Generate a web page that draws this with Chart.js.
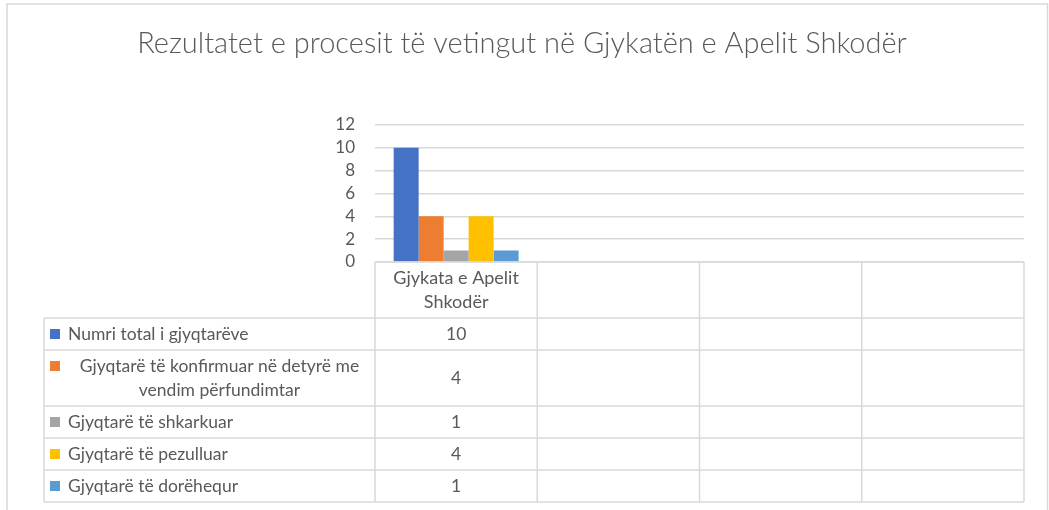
<!DOCTYPE html>
<html>
<head>
<meta charset="utf-8">
<script src="https://cdn.jsdelivr.net/npm/chart.js@4"></script>
<style>
  html, body { margin: 0; padding: 0; background: #ffffff; }
  #wrap { position: absolute; left: 0; top: 0; width: 1049px; height: 510px; }
</style>
</head>
<body>
<div id="wrap"><canvas id="c"></canvas></div>
<script>
// ---- Data ----
const chartTitle = 'Rezultatet e procesit të vetingut në Gjykatën e Apelit Shkodër';
const categories = ['Gjykata e Apelit Shkodër', '', '', ''];
const seriesNames = [
  'Numri total i gjyqtarëve',
  'Gjyqtarë të konfirmuar në detyrë me vendim përfundimtar',
  'Gjyqtarë të shkarkuar',
  'Gjyqtarë të pezulluar',
  'Gjyqtarë të dorëhequr'
];
const numriTotal   = [10, null, null, null];
const konfirmuar   = [4, null, null, null];
const shkarkuar    = [1, null, null, null];
const pezulluar    = [4, null, null, null];
const doreHequr    = [1, null, null, null];
const seriesColors = ['#4472C4', '#ED7D31', '#A5A5A5', '#FFC000', '#5B9BD5'];
const yMin = 0, yMax = 12, yStep = 2;

const FONT = 'Lato, "Open Sans", sans-serif';
const TEXT = '#595959';
const LINE = '#d9d9d9';

const seriesValues = [numriTotal, konfirmuar, shkarkuar, pezulluar, doreHequr];

function wrap(ctx, text, maxW) {
  const words = text.split(' ');
  const lines = [];
  let cur = '';
  for (const w of words) {
    const t = cur ? cur + ' ' + w : w;
    if (ctx.measureText(t).width > maxW && cur) { lines.push(cur); cur = w; }
    else cur = t;
  }
  if (cur) lines.push(cur);
  return lines;
}

const frame = {
  id: 'frame',
  beforeDraw(chart) {
    const ctx = chart.ctx;
    ctx.save();
    ctx.fillStyle = '#ffffff';
    ctx.fillRect(0, 0, chart.width, chart.height);
    ctx.strokeStyle = LINE;
    ctx.lineWidth = 1.5;
    ctx.strokeRect(7, 4, 1040.5, 530);
    ctx.restore();
  }
};

const dataTable = {
  id: 'dataTable',
  afterDraw(chart) {
    const ctx = chart.ctx;
    const xs = chart.scales.x;
    const area = chart.chartArea;
    const n = categories.length;
    const colW = (area.right - area.left) / n;
    const tableLeft = 44;
    const top = area.bottom;
    const headerH = 56;
    const rowHeights = [32, 56, 32, 32, 32];
    ctx.save();
    ctx.strokeStyle = LINE;
    ctx.lineWidth = 1.5;
    const ys = [top + headerH];
    rowHeights.forEach(h => ys.push(ys[ys.length - 1] + h));
    const bottom = ys[ys.length - 1];
    ctx.beginPath();
    ctx.moveTo(area.left, top); ctx.lineTo(area.right, top);
    ys.forEach(y => { ctx.moveTo(tableLeft, y); ctx.lineTo(area.right, y); });
    ctx.moveTo(tableLeft, ys[0]); ctx.lineTo(tableLeft, bottom);
    for (let i = 0; i <= n; i++) {
      const x = area.left + i * colW;
      ctx.moveTo(x, top); ctx.lineTo(x, bottom);
    }
    ctx.stroke();

    ctx.fillStyle = TEXT;
    ctx.textBaseline = 'middle';
    ctx.textAlign = 'center';
    // header (category labels)
    ctx.font = '18px ' + FONT;
    categories.forEach((c, i) => {
      if (!c) return;
      const cx = xs.getPixelForValue(i);
      const lines = wrap(ctx, c, colW - 14);
      const lh = 24;
      const y0 = top + headerH / 2 - (lines.length - 1) * lh / 2;
      lines.forEach((l, k) => ctx.fillText(l, cx, y0 + k * lh));
    });
    // rows
    ctx.font = '17.5px ' + FONT;
    const textLeft = 68;
    const textRight = area.left - 4;
    seriesNames.forEach((name, r) => {
      const y1 = ys[r], y2 = ys[r + 1];
      const cy = (y1 + y2) / 2;
      const lines = wrap(ctx, name, textRight - textLeft);
      const lh = 24;
      const y0 = cy - (lines.length - 1) * lh / 2;
      ctx.fillStyle = seriesColors[r];
      ctx.fillRect(50, y0 - 5, 10, 10);
      ctx.fillStyle = TEXT;
      if (lines.length === 1) {
        ctx.textAlign = 'left';
        ctx.fillText(lines[0], textLeft, cy);
      } else {
        ctx.textAlign = 'center';
        lines.forEach((l, k) => ctx.fillText(l, (textLeft + textRight) / 2, y0 + k * lh));
      }
      ctx.textAlign = 'center';
      seriesValues[r].forEach((v, i) => {
        if (v === null || v === undefined) return;
        ctx.fillText(String(v), xs.getPixelForValue(i), cy);
      });
    });
    ctx.restore();
  }
};

new Chart(document.getElementById('c'), {
  type: 'bar',
  data: {
    labels: categories,
    datasets: seriesNames.map((name, i) => ({
      label: name,
      data: seriesValues[i],
      backgroundColor: seriesColors[i],
      borderWidth: 0,
      categoryPercentage: 0.77,
      barPercentage: 1.0
    }))
  },
  options: {
    responsive: true,
    maintainAspectRatio: false,
    animation: false,
    layout: { padding: { left: 20, right: 25, top: 0, bottom: 248 } },
    plugins: {
      legend: { display: false },
      tooltip: { enabled: false },
      title: {
        display: true,
        text: chartTitle,
        color: TEXT,
        font: { family: FONT, size: 29, weight: 300, lineHeight: 1.2 },
        padding: { top: 26, bottom: 64 }
      }
    },
    scales: {
      x: { display: false },
      y: {
        min: yMin, max: yMax,
        ticks: { stepSize: yStep, autoSkip: false, color: TEXT, font: { family: FONT, size: 17 }, padding: 20 },
        grid: { color: LINE, lineWidth: 1.5, drawTicks: false },
        border: { display: false },
        afterFit(scale) { scale.width = 375 - 20; }
      }
    }
  },
  plugins: [frame, dataTable]
});
</script>
</body>
</html>
